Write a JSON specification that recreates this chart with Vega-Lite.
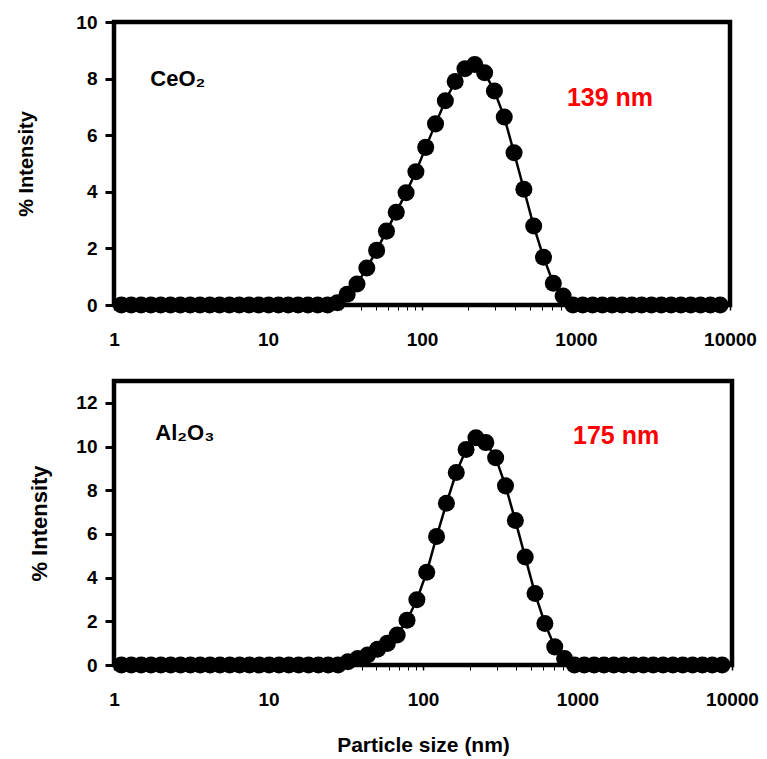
{
  "$schema": "https://vega.github.io/schema/vega-lite/v6.json",
  "padding": {"left": 14, "top": 10, "right": 6, "bottom": 5},
  "background": "white",
  "config": {
    "font": "Liberation Sans",
    "view": {"stroke": "black", "strokeWidth": 4.5},
    "axis": {
      "labelFont": "Liberation Sans",
      "labelFontWeight": "bold",
      "labelFontSize": 19,
      "labelColor": "black",
      "labelFlush": false,
      "titleFont": "Liberation Sans",
      "titleFontWeight": "bold",
      "titleColor": "black",
      "tickColor": "black",
      "grid": false,
      "domain": false
    }
  },
  "datasets": {
    "dls": [
      {"size": 1.117, "CeO2": 0, "Al2O3": 0},
      {"size": 1.294, "CeO2": 0, "Al2O3": 0},
      {"size": 1.499, "CeO2": 0, "Al2O3": 0},
      {"size": 1.736, "CeO2": 0, "Al2O3": 0},
      {"size": 2.01, "CeO2": 0, "Al2O3": 0},
      {"size": 2.328, "CeO2": 0, "Al2O3": 0},
      {"size": 2.696, "CeO2": 0, "Al2O3": 0},
      {"size": 3.122, "CeO2": 0, "Al2O3": 0},
      {"size": 3.615, "CeO2": 0, "Al2O3": 0},
      {"size": 4.187, "CeO2": 0, "Al2O3": 0},
      {"size": 4.849, "CeO2": 0, "Al2O3": 0},
      {"size": 5.615, "CeO2": 0, "Al2O3": 0},
      {"size": 6.503, "CeO2": 0, "Al2O3": 0},
      {"size": 7.531, "CeO2": 0, "Al2O3": 0},
      {"size": 8.721, "CeO2": 0, "Al2O3": 0},
      {"size": 10.1, "CeO2": 0, "Al2O3": 0},
      {"size": 11.7, "CeO2": 0, "Al2O3": 0},
      {"size": 13.54, "CeO2": 0, "Al2O3": 0},
      {"size": 15.69, "CeO2": 0, "Al2O3": 0},
      {"size": 18.17, "CeO2": 0, "Al2O3": 0},
      {"size": 21.04, "CeO2": 0, "Al2O3": 0},
      {"size": 24.36, "CeO2": 0, "Al2O3": 0},
      {"size": 28.21, "CeO2": 0.08, "Al2O3": 0},
      {"size": 32.67, "CeO2": 0.38, "Al2O3": 0.15},
      {"size": 37.84, "CeO2": 0.74, "Al2O3": 0.3},
      {"size": 43.82, "CeO2": 1.31, "Al2O3": 0.46},
      {"size": 50.75, "CeO2": 1.93, "Al2O3": 0.72},
      {"size": 58.77, "CeO2": 2.61, "Al2O3": 0.99},
      {"size": 68.06, "CeO2": 3.28, "Al2O3": 1.37},
      {"size": 78.82, "CeO2": 3.97, "Al2O3": 2.05},
      {"size": 91.28, "CeO2": 4.71, "Al2O3": 2.99},
      {"size": 105.7, "CeO2": 5.57, "Al2O3": 4.25},
      {"size": 122.4, "CeO2": 6.4, "Al2O3": 5.88},
      {"size": 141.8, "CeO2": 7.22, "Al2O3": 7.4},
      {"size": 164.2, "CeO2": 7.9, "Al2O3": 8.81},
      {"size": 190.1, "CeO2": 8.35, "Al2O3": 9.86},
      {"size": 220.2, "CeO2": 8.5, "Al2O3": 10.4},
      {"size": 255.0, "CeO2": 8.21, "Al2O3": 10.18},
      {"size": 295.3, "CeO2": 7.56, "Al2O3": 9.49},
      {"size": 342.0, "CeO2": 6.64, "Al2O3": 8.2},
      {"size": 396.1, "CeO2": 5.38, "Al2O3": 6.61},
      {"size": 458.7, "CeO2": 4.09, "Al2O3": 4.94},
      {"size": 531.2, "CeO2": 2.79, "Al2O3": 3.27},
      {"size": 615.1, "CeO2": 1.69, "Al2O3": 1.9},
      {"size": 712.4, "CeO2": 0.77, "Al2O3": 0.83},
      {"size": 825.0, "CeO2": 0.32, "Al2O3": 0.3},
      {"size": 955.4, "CeO2": 0, "Al2O3": 0},
      {"size": 1106, "CeO2": 0, "Al2O3": 0},
      {"size": 1281, "CeO2": 0, "Al2O3": 0},
      {"size": 1484, "CeO2": 0, "Al2O3": 0},
      {"size": 1718, "CeO2": 0, "Al2O3": 0},
      {"size": 1990, "CeO2": 0, "Al2O3": 0},
      {"size": 2305, "CeO2": 0, "Al2O3": 0},
      {"size": 2669, "CeO2": 0, "Al2O3": 0},
      {"size": 3091, "CeO2": 0, "Al2O3": 0},
      {"size": 3580, "CeO2": 0, "Al2O3": 0},
      {"size": 4145, "CeO2": 0, "Al2O3": 0},
      {"size": 4801, "CeO2": 0, "Al2O3": 0},
      {"size": 5560, "CeO2": 0, "Al2O3": 0},
      {"size": 6439, "CeO2": 0, "Al2O3": 0},
      {"size": 7456, "CeO2": 0, "Al2O3": 0},
      {"size": 8635, "CeO2": 0, "Al2O3": 0}
    ]
  },
  "spacing": 26,
  "vconcat": [
    {
      "width": 616,
      "height": 283,
      "resolve": {"scale": {"x": "shared"}, "axis": {"x": "independent"}},
      "layer": [
        {
          "data": {"name": "dls"},
          "mark": {"type": "line", "color": "black", "strokeWidth": 2.5},
          "encoding": {
            "x": {"field": "size", "type": "quantitative",
              "scale": {"type": "log", "domain": [1, 10000], "nice": false},
              "axis": {"orient": "bottom", "values": [1, 10, 100, 1000, 10000], "format": "d", "tickSize": 5, "tickWidth": 1.5, "labelPadding": 20, "title": null}},
            "y": {"field": "CeO2", "type": "quantitative",
              "scale": {"domain": [0, 10], "nice": false},
              "axis": {"values": [0, 2, 4, 6, 8, 10], "tickSize": 9, "tickWidth": 3, "labelPadding": 8, "title": "% Intensity", "titleFontSize": 20, "titlePadding": 39}}
          }
        },
        {
          "data": {"name": "dls"},
          "mark": {"type": "circle", "fill": "black", "fillOpacity": 1, "opacity": 1, "size": 290},
          "encoding": {
            "x": {"field": "size", "type": "quantitative",
              "axis": {"orient": "bottom", "values": [2,3,4,5,6,7,8,9,20,30,40,50,60,70,80,90,200,300,400,500,600,700,800,900,2000,3000,4000,5000,6000,7000,8000,9000], "labels": false, "tickSize": 5, "tickWidth": 1, "title": null}},
            "y": {"field": "CeO2", "type": "quantitative"}
          }
        },
        {
          "data": {"values": [{}]},
          "mark": {"type": "text", "text": "CeO₂", "fontSize": 22, "fontWeight": "bold", "align": "left", "baseline": "middle", "fill": "black"},
          "encoding": {
            "x": {"datum": 1.72, "type": "quantitative", "axis": null},
            "y": {"datum": 8.0, "type": "quantitative"}
          }
        },
        {
          "data": {"values": [{}]},
          "mark": {"type": "text", "text": "139 nm", "fontSize": 25, "fontWeight": "bold", "align": "center", "baseline": "middle", "fill": "#ff0000"},
          "encoding": {
            "x": {"datum": 1663, "type": "quantitative", "axis": null},
            "y": {"datum": 7.31, "type": "quantitative"}
          }
        }
      ]
    },
    {
      "width": 618,
      "height": 284,
      "resolve": {"scale": {"x": "shared"}, "axis": {"x": "independent"}},
      "layer": [
        {
          "data": {"name": "dls"},
          "mark": {"type": "line", "color": "black", "strokeWidth": 2.5},
          "encoding": {
            "x": {"field": "size", "type": "quantitative",
              "scale": {"type": "log", "domain": [1, 10000], "nice": false},
              "axis": {"orient": "bottom", "values": [1, 10, 100, 1000, 10000], "format": "d", "tickSize": 5, "tickWidth": 1.5, "labelPadding": 20, "title": "Particle size (nm)", "titleFontSize": 21, "titlePadding": 25}},
            "y": {"field": "Al2O3", "type": "quantitative",
              "scale": {"domain": [0, 13], "nice": false},
              "axis": {"values": [0, 2, 4, 6, 8, 10, 12], "tickSize": 9, "tickWidth": 3, "labelPadding": 8, "title": "% Intensity", "titleFontSize": 22, "titlePadding": 24}}
          }
        },
        {
          "data": {"name": "dls"},
          "mark": {"type": "circle", "fill": "black", "fillOpacity": 1, "opacity": 1, "size": 290},
          "encoding": {
            "x": {"field": "size", "type": "quantitative",
              "axis": {"orient": "bottom", "values": [2,3,4,5,6,7,8,9,20,30,40,50,60,70,80,90,200,300,400,500,600,700,800,900,2000,3000,4000,5000,6000,7000,8000,9000], "labels": false, "tickSize": 5, "tickWidth": 1, "title": null}},
            "y": {"field": "Al2O3", "type": "quantitative"}
          }
        },
        {
          "data": {"values": [{}]},
          "mark": {"type": "text", "text": "Al₂O₃", "fontSize": 22, "fontWeight": "bold", "align": "left", "baseline": "middle", "fill": "black"},
          "encoding": {
            "x": {"datum": 1.85, "type": "quantitative", "axis": null},
            "y": {"datum": 10.6, "type": "quantitative"}
          }
        },
        {
          "data": {"values": [{}]},
          "mark": {"type": "text", "text": "175 nm", "fontSize": 25, "fontWeight": "bold", "align": "center", "baseline": "middle", "fill": "#ff0000"},
          "encoding": {
            "x": {"datum": 1778, "type": "quantitative", "axis": null},
            "y": {"datum": 10.5, "type": "quantitative"}
          }
        }
      ]
    }
  ]
}
